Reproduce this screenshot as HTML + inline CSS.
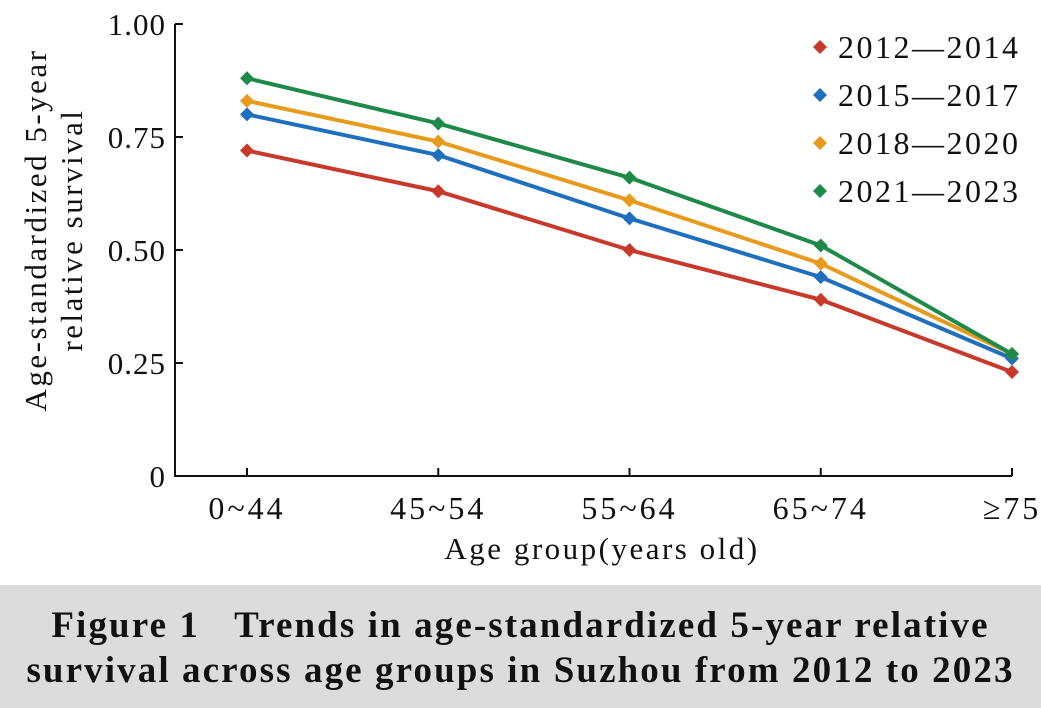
<!DOCTYPE html>
<html><head><meta charset="utf-8"><style>
body{margin:0;background:#fff;width:1041px;height:708px;overflow:hidden;font-family:"Liberation Serif",serif}
#cap{position:absolute;left:0;top:585px;width:1041px;height:123px;background:#dcdcdc;text-align:center;font-weight:bold;font-size:37px;letter-spacing:2.1px;line-height:45px;padding-top:18px;box-sizing:border-box;color:#111;white-space:nowrap}
</style></head><body>
<svg id="chart" width="1041" height="585" style="position:absolute;left:0;top:0"></svg>
<div id="cap">Figure 1&nbsp;&nbsp;&nbsp;Trends in age-standardized 5-year relative<br>survival across age groups in Suzhou from 2012 to 2023</div>
<script>
const categories=["0~44","45~54","55~64","65~74","≥75"];
const seriesNames=["2012—2014","2015—2017","2018—2020","2021—2023"];
const s2012=[0.72,0.63,0.50,0.39,0.23];
const s2015=[0.80,0.71,0.57,0.44,0.26];
const s2018=[0.83,0.74,0.61,0.47,0.27];
const s2021=[0.88,0.78,0.66,0.51,0.27];
const yTicks=[0,0.25,0.5,0.75,1.0];
const yTickLabels=["0","0.25","0.50","0.75","1.00"];
const colors=["#c8392b","#1f6fbf","#e89a1c","#1d8a4a"];
const svg=document.getElementById('chart');
const NS="http://www.w3.org/2000/svg";
function x(i){return 247+i*(1012-247)/(categories.length-1);}
function y(v){return 476-v*452;}
function mk(t,a,txt){const e=document.createElementNS(NS,t);for(const k in a)e.setAttribute(k,a[k]);if(txt!==undefined)e.textContent=txt;svg.appendChild(e);return e;}
let e=mk('path',{d:`M175,${y(1)} V476 H1012`,fill:'none',stroke:'#111','stroke-width':2});


yTicks.forEach((v,i)=>{
 let t=mk('line',{x1:175,x2:183,y1:y(v),y2:y(v),stroke:'#111','stroke-width':2});
 
 
 let l=mk('text',{x:166,y:y(v)+11,'text-anchor':'end','font-size':31,'letter-spacing':1,fill:'#111'},yTickLabels[i]);
 
 
});
categories.forEach((c,i)=>{
 let t=mk('line',{x1:x(i),x2:x(i),y1:476,y2:468,stroke:'#111','stroke-width':2});
 
 
 let l=mk('text',{x:x(i),y:519,'text-anchor':'middle','font-size':32,'letter-spacing':3,fill:'#111'},c);
 
 
});
let xt=mk('text',{x:602,y:559,'text-anchor':'middle','font-size':31,'letter-spacing':2.5,fill:'#111'},'Age group(years old)');


let yt=mk('text',{transform:'translate(50,230) rotate(-90)','text-anchor':'middle','font-size':31,'letter-spacing':2.5,fill:'#111'});


yt.innerHTML='<tspan x="0" dy="-4">Age-standardized 5-year</tspan><tspan x="0" dy="36">relative survival</tspan>';
[s2012,s2015,s2018,s2021].forEach((s,k)=>{
 let p=mk('polyline',{points:s.map((v,i)=>x(i)+','+y(v)).join(' '),fill:'none',stroke:colors[k],'stroke-width':4});
 
 
 s.forEach((v,i)=>{
  let m=mk('path',{d:`M${x(i)},${y(v)-7}l7,7l-7,7l-7,-7z`,fill:colors[k]});
  
  
 });
 let ly=47+k*48;
 let lm=mk('path',{d:`M820,${ly-7}l7,7l-7,7l-7,-7z`,fill:colors[k]});
 
 
 let lt=mk('text',{x:838,y:ly+11,'font-size':32,'letter-spacing':2.5,fill:'#111'},seriesNames[k]);
 
 
});
</script>
</body></html>
